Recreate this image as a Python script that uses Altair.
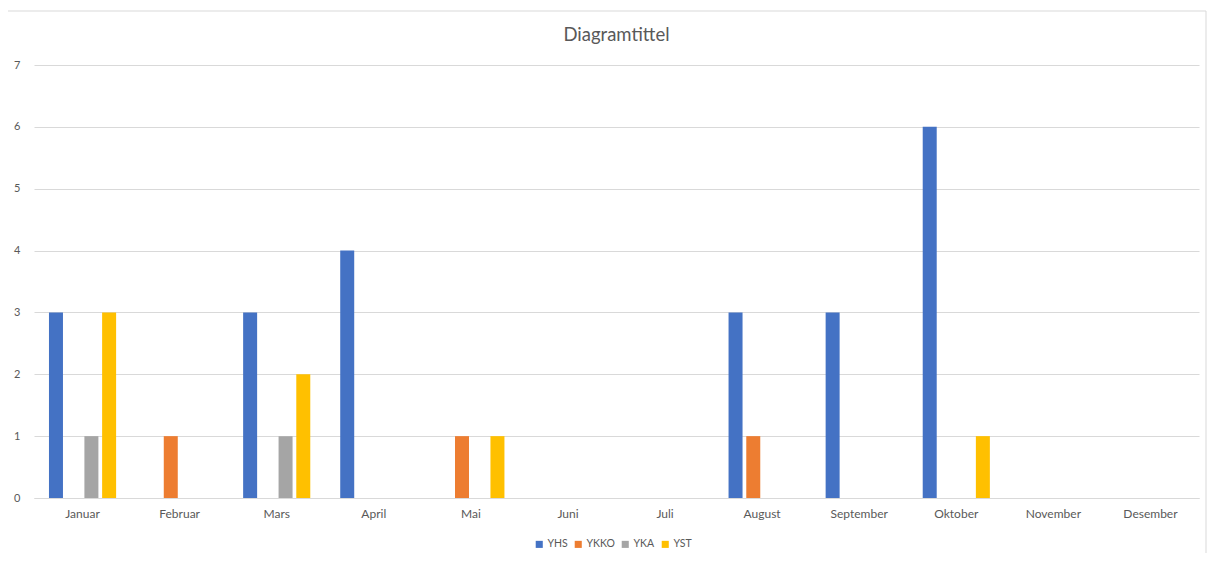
import altair as alt
import pandas as pd

months = ["Januar", "Februar", "Mars", "April", "Mai", "Juni", "Juli",
          "August", "September", "Oktober", "November", "Desember"]
series = ["YHS", "YKKO", "YKA", "YST"]
colors = ["#4472C4", "#ED7D31", "#A5A5A5", "#FFC000"]

yhs  = [3, 0, 3, 4, 0, 0, 0, 3, 3, 6, 0, 0]
ykko = [0, 1, 0, 0, 1, 0, 0, 1, 0, 0, 0, 0]
yka  = [1, 0, 1, 0, 0, 0, 0, 0, 0, 0, 0, 0]
yst  = [3, 0, 2, 0, 1, 0, 0, 0, 0, 1, 0, 0]

rows = []
for s, vals in zip(series, [yhs, ykko, yka, yst]):
    for m, v in zip(months, vals):
        if v:
            rows.append({"Måned": m, "Serie": s, "Verdi": v})
df = pd.DataFrame(rows)

FONT = "Lato"
TXT = "#595959"
GRID = "#D9D9D9"

bars = alt.Chart(df).mark_bar().encode(
    x=alt.X("Måned:N", sort=months,
            scale=alt.Scale(domain=months, paddingInner=0, paddingOuter=0),
            axis=alt.Axis(title=None, labelAngle=0, ticks=False, domainColor=GRID,
                          labelColor=TXT, labelFontSize=12, labelFont=FONT, labelPadding=10)),
    xOffset=alt.XOffset("Serie:N", sort=series,
                        scale=alt.Scale(domain=series, paddingInner=0.21, paddingOuter=0.845)),
    y=alt.Y("Verdi:Q", scale=alt.Scale(domain=[0, 7], nice=False),
            axis=alt.Axis(title=None, values=list(range(8)), ticks=False, domain=False,
                          gridColor=GRID, labelColor=TXT, labelFontSize=11, labelFont=FONT,
                          labelPadding=14)),
    color=alt.Color("Serie:N", sort=series,
                    scale=alt.Scale(domain=series, range=colors),
                    legend=alt.Legend(title=None, orient="none", direction="horizontal",
                                      legendX=500, legendY=474, symbolType="square",
                                      symbolSize=50, labelFontSize=10.5, labelFont=FONT,
                                      labelColor=TXT, columnPadding=5, labelOffset=3)),
)

frame = alt.Chart(alt.Data(values=[{"a": 1}])).mark_rect(
    fill=None, stroke=GRID, strokeWidth=1, clip=False
).encode(
    x=alt.value(-28), x2=alt.value(1172), y=alt.value(-54), y2=alt.value(500)
)

chart = alt.layer(frame, bars).properties(
    width=1165, height=433,
    title=alt.TitleParams("Diagramtittel", anchor="middle", fontSize=18.5, font=FONT,
                          color=TXT, fontWeight="normal", offset=-34),
    autosize=alt.AutoSizeParams(type="none"),
    padding={"left": 26, "top": 57, "right": 8, "bottom": 55},
).configure_view(stroke=None).configure_axis(gridColor=GRID)

chart.save("out.html", embed_options={"renderer": "svg", "actions": False})
